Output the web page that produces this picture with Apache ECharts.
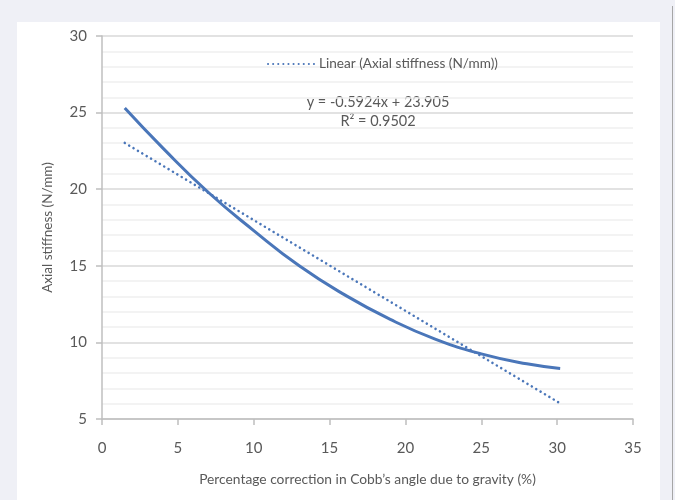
<!DOCTYPE html>
<html>
<head>
<meta charset="utf-8">
<script src="https://cdn.jsdelivr.net/npm/echarts@6/dist/echarts.min.js"></script>
<style>
  html, body { margin: 0; padding: 0; background: #eff0f6; }
  #chart { width: 675px; height: 500px; }
</style>
</head>
<body>
<div id="chart"></div>
<script>
// values
const stiffnessX = [1.5, 4, 7, 10, 13, 16, 19, 22, 25, 28, 30.2];
const stiffnessY = [25.3, 22.7, 19.8, 17.3, 15.0, 13.1, 11.5, 10.2, 9.25, 8.6, 8.3];
const trendX = [1.5, 30.2];
const trendY = [23.02, 6.02];
const legendName = 'Linear (Axial stiffness (N/mm))';
const equationText = 'y = -0.5924x + 23.905';
const r2Text = 'R² = 0.9502';

const chart = echarts.init(document.getElementById('chart'));
const textColor = '#595959';
const lineColor = '#4a76b9';

const option = {
  backgroundColor: '#eff0f6',
  textStyle: { fontFamily: 'Lato' },
  animation: false,
  graphic: [
    { type: 'rect', z: -10, shape: { x: 17, y: 22, width: 643, height: 478 }, style: { fill: '#ffffff' } },
    { type: 'line', z: -10, shape: { x1: 672.5, y1: 6, x2: 672.5, y2: 500 }, style: { stroke: '#a6a6a6', lineWidth: 1 } },
    { type: 'text', x: 378, y: 102, style: { text: equationText, fill: textColor, font: '14.5px Lato', align: 'center', verticalAlign: 'middle' } },
    { type: 'text', x: 378, y: 121, style: { text: r2Text, fill: textColor, font: '14.5px Lato', align: 'center', verticalAlign: 'middle' } }
  ],
  legend: {
    data: [legendName],
    left: 262,
    top: 52,
    itemWidth: 46,
    itemHeight: 10,
    itemGap: 8,
    itemStyle: { color: 'transparent', borderWidth: 0, opacity: 0 },
    textStyle: { color: textColor, fontSize: 13.6, fontFamily: 'Lato' }
  },
  grid: { left: 102, right: 42, top: 36, bottom: 81 },
  xAxis: {
    type: 'value',
    min: 0, max: 35, interval: 5,
    name: 'Percentage correction in Cobb’s angle due to gravity (%)',
    nameLocation: 'middle',
    nameGap: 54,
    nameTextStyle: { color: textColor, fontSize: 13.8, fontFamily: 'Lato' },
    axisLine: { show: true, lineStyle: { color: '#bfbfbf', width: 1.5 } },
    axisTick: { show: true, length: 6, lineStyle: { color: '#bfbfbf', width: 1.5 } },
    axisLabel: { color: textColor, fontSize: 15, margin: 22 },
    splitLine: { show: false }
  },
  yAxis: {
    type: 'value',
    min: 5, max: 30, interval: 5,
    name: 'Axial stiffness (N/mm)',
    nameLocation: 'middle',
    nameGap: 47,
    nameTextStyle: { color: textColor, fontSize: 13.5, fontFamily: 'Lato' },
    axisLine: { show: true, lineStyle: { color: '#bfbfbf', width: 1.5 } },
    axisTick: { show: true, length: 6, lineStyle: { color: '#bfbfbf', width: 1.5 } },
    axisLabel: { color: textColor, fontSize: 15, margin: 15 },
    splitLine: { show: true, lineStyle: { color: '#d9d9d9', width: 1.5 } },
    minorTick: { show: false, splitNumber: 5 },
    minorSplitLine: { show: true, lineStyle: { color: '#f0f0f0', width: 1.5 } }
  },
  series: [
    {
      name: 'Axial stiffness (N/mm)',
      type: 'line',
      smooth: true,
      symbol: 'none',
      data: stiffnessX.map((x, i) => [x, stiffnessY[i]]),
      lineStyle: { color: lineColor, width: 3 },
      itemStyle: { color: lineColor },
      z: 3
    },
    {
      name: legendName,
      type: 'line',
      symbol: 'none',
      data: trendX.map((x, i) => [x, trendY[i]]),
      lineStyle: { color: lineColor, width: 2.5, type: [0.1, 5], cap: 'round' },
      itemStyle: { color: lineColor },
      z: 2
    }
  ]
};

chart.setOption(option);
</script>
</body>
</html>
